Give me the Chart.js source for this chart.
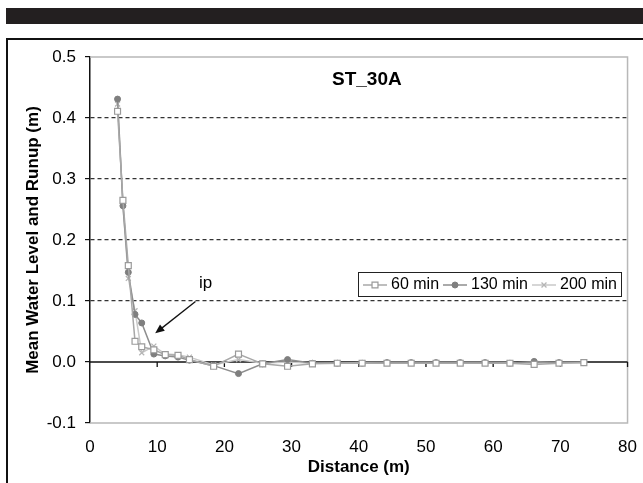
<!DOCTYPE html>
<html>
<head>
<meta charset="utf-8">
<script src="https://cdn.jsdelivr.net/npm/chart.js@4.4.0/dist/chart.umd.min.js"></script>
<style>
  html, body { margin: 0; padding: 0; background: #fff; }
  #wrap { position: relative; width: 643px; height: 483px; overflow: hidden; }
  #bar { position: absolute; left: 6px; top: 8px; right: 0; height: 16px; background: #231f20; }
  #frame { position: absolute; left: 6px; top: 38px; width: 700px; height: 500px;
           border-left: 2px solid #111; border-top: 2px solid #111; }
  canvas { position: absolute; left: 0; top: 0; }
</style>
</head>
<body>
<div id="wrap">
  <div id="bar"></div>
  <div id="frame"></div>
  <canvas id="chart" width="643" height="483"></canvas>
</div>
<script>
// distance along the profile (m)
const distance = [4.1, 4.9, 5.7, 6.7, 7.7, 9.5, 11.2, 13.1, 14.8, 18.4, 22.1, 25.7, 29.4,
                  33.1, 36.8, 40.5, 44.2, 47.8, 51.5, 55.1, 58.8, 62.5, 66.1, 69.8, 73.5];
// mean water level and runup (m)
const min60  = [0.411, 0.265, 0.158, 0.034, 0.025, 0.020, 0.012, 0.011, 0.004, -0.007, 0.013, -0.003, -0.007,
                -0.003, -0.002, -0.002, -0.002, -0.002, -0.002, -0.002, -0.002, -0.002, -0.004, -0.002, -0.001];
const min130 = [0.431, 0.256, 0.147, 0.078, 0.064, 0.013, 0.010, 0.008, 0.003, -0.006, -0.019, -0.003, 0.004,
                -0.002, -0.002, -0.002, -0.001, -0.001, -0.001, -0.001, -0.001, -0.002, 0.001, -0.001, -0.001];
const min200 = [0.423, 0.258, 0.137, 0.084, 0.015, 0.026, 0.013, 0.012, 0.008, -0.005, 0.004, -0.002, 0.000,
                -0.002, -0.002, -0.001, -0.001, -0.001, -0.001, -0.001, -0.001, -0.001, -0.002, -0.001, -0.001];
const seriesNames = ['60 min', '130 min', '200 min'];
const xTicks = { min: 0, max: 80, step: 10 };
const yTicks = { min: -0.1, max: 0.5, step: 0.1 };
const chartTitle = 'ST_30A';
const ipLabel = { text: 'ip', x: 17.2, y: 0.129 };
const ipArrow = { fromX: 15.7, fromY: 0.099, toX: 9.7, toY: 0.047 };

const FONT = "'Liberation Sans', Arial, sans-serif";
const pts = ys => distance.map((d, i) => ({ x: d, y: ys[i] }));

const datasets = [
  { label: seriesNames[0], data: pts(min60), borderColor: '#a8a8a8', backgroundColor: '#fff',
    pointStyle: 'rect', pointRadius: 4.2, pointBorderColor: '#9a9a9a', pointBorderWidth: 1.2 },
  { label: seriesNames[1], data: pts(min130), borderColor: '#8e8e8e', backgroundColor: '#7f7f7f',
    pointStyle: 'circle', pointRadius: 3, pointBorderColor: '#7f7f7f', pointBorderWidth: 1 },
  { label: seriesNames[2], data: pts(min200), borderColor: '#c9c9c9', backgroundColor: '#bbb',
    pointStyle: 'crossRot', pointRadius: 3.5, pointBorderColor: '#b5b5b5', pointBorderWidth: 1.3 }
].map(ds => Object.assign({ borderWidth: 1.5, tension: 0, fill: false,
                            pointBackgroundColor: ds.backgroundColor, pointHoverRadius: ds.pointRadius }, ds));

const overlay = {
  id: 'overlay',
  beforeDatasetsDraw(chart) {
    const { ctx, chartArea: a, scales: { x, y } } = chart;
    ctx.save();
    // grey plot frame on top/right/bottom
    ctx.strokeStyle = '#b8b8b8';
    ctx.lineWidth = 1.5;
    ctx.beginPath();
    ctx.moveTo(a.left, a.top); ctx.lineTo(a.right, a.top);
    ctx.lineTo(a.right, a.bottom); ctx.lineTo(a.left, a.bottom);
    ctx.stroke();
    // zero line with x ticks
    const y0 = y.getPixelForValue(0);
    ctx.strokeStyle = '#111';
    ctx.lineWidth = 1.3;
    ctx.beginPath();
    ctx.moveTo(a.left, y0); ctx.lineTo(a.right, y0);
    for (let v = xTicks.min + xTicks.step; v <= xTicks.max; v += xTicks.step) {
      const px = x.getPixelForValue(v);
      ctx.moveTo(px, y0); ctx.lineTo(px, y0 + 5);
    }
    ctx.stroke();
    ctx.restore();
  },
  afterDatasetsDraw(chart) {
    const { ctx, chartArea: a, scales: { x, y } } = chart;
    ctx.save();
    // title inside plot
    ctx.fillStyle = '#000';
    ctx.font = 'bold 19px ' + FONT;
    ctx.textAlign = 'center';
    ctx.textBaseline = 'middle';
    ctx.fillText(chartTitle, x.getPixelForValue(41.2), y.getPixelForValue(0.463));
    // ip annotation
    ctx.font = '17px ' + FONT;
    ctx.fillText(ipLabel.text, x.getPixelForValue(ipLabel.x), y.getPixelForValue(ipLabel.y));
    const x1 = x.getPixelForValue(ipArrow.fromX), y1 = y.getPixelForValue(ipArrow.fromY);
    const x2 = x.getPixelForValue(ipArrow.toX), y2 = y.getPixelForValue(ipArrow.toY);
    const ang = Math.atan2(y2 - y1, x2 - x1);
    ctx.strokeStyle = '#111';
    ctx.lineWidth = 1.3;
    ctx.beginPath(); ctx.moveTo(x1, y1); ctx.lineTo(x2 - 6 * Math.cos(ang), y2 - 6 * Math.sin(ang)); ctx.stroke();
    ctx.fillStyle = '#111';
    ctx.beginPath();
    ctx.moveTo(x2, y2);
    ctx.lineTo(x2 - 10 * Math.cos(ang - 0.4), y2 - 10 * Math.sin(ang - 0.4));
    ctx.lineTo(x2 - 10 * Math.cos(ang + 0.4), y2 - 10 * Math.sin(ang + 0.4));
    ctx.closePath(); ctx.fill();
    // legend box
    const bx = a.left + 268, by = y.getPixelForValue(0.1) - 29, bw = 263, bh = 24;
    ctx.fillStyle = '#fff';
    ctx.fillRect(bx, by, bw, bh);
    ctx.strokeStyle = '#222';
    ctx.lineWidth = 1;
    ctx.strokeRect(bx + 0.5, by + 0.5, bw, bh);
    ctx.font = '16px ' + FONT;
    ctx.textAlign = 'left';
    const cy = by + bh / 2 + 1;
    const starts = [5, 85, 174];
    chart.data.datasets.forEach((ds, i) => {
      const sx = bx + starts[i];
      ctx.strokeStyle = ds.borderColor;
      ctx.lineWidth = 1.5;
      ctx.beginPath(); ctx.moveTo(sx, cy); ctx.lineTo(sx + 24, cy); ctx.stroke();
      ctx.fillStyle = ds.pointBackgroundColor;
      ctx.strokeStyle = ds.pointBorderColor;
      ctx.lineWidth = ds.pointBorderWidth;
      Chart.helpers.drawPoint(ctx, { pointStyle: ds.pointStyle, radius: ds.pointRadius,
                                     rotation: 0, borderWidth: ds.pointBorderWidth }, sx + 12, cy);
      ctx.fillStyle = '#000';
      ctx.fillText(ds.label, sx + 28, cy);
    });
    ctx.restore();
  }
};

new Chart(document.getElementById('chart'), {
  type: 'line',
  data: { datasets },
  options: {
    responsive: false,
    animation: false,
    devicePixelRatio: 1,
    layout: { padding: { left: 19, right: 13, top: 57, bottom: 0 } },
    plugins: { legend: { display: false }, tooltip: { enabled: false } },
    scales: {
      x: {
        type: 'linear',
        min: xTicks.min, max: xTicks.max,
        grid: { display: false },
        border: { display: false },
        ticks: { stepSize: xTicks.step, color: '#000', padding: 6, font: { family: FONT, size: 17 } },
        title: { display: true, text: 'Distance (m)', color: '#000',
                 font: { family: FONT, size: 17, weight: 'bold' }, padding: { top: 0, bottom: 5 } },
        afterFit(s) { s.height = 60; }
      },
      y: {
        min: yTicks.min, max: yTicks.max,
        grid: {
          color: c => (c.tick && [0.1, 0.2, 0.3, 0.4].some(v => Math.abs(c.tick.value - v) < 1e-6)) ? '#333' : 'rgba(0,0,0,0)',
          lineWidth: 1.2, tickColor: '#111', tickLength: 5, tickWidth: 1.2
        },
        border: { display: true, color: '#111', width: 1.5, dash: [4, 3] },
        ticks: { stepSize: yTicks.step, color: '#000', padding: 9, font: { family: FONT, size: 17 },
                 callback: v => (Math.abs(v) < 1e-9 ? 0 : v).toFixed(1) },
        title: { display: true, text: 'Mean Water Level and Runup (m)', color: '#000',
                 font: { family: FONT, size: 17, weight: 'bold' }, padding: { top: 4, bottom: 0 } },
        afterFit(s) { s.width = 71; }
      }
    }
  },
  plugins: [overlay]
});
</script>
</body>
</html>
